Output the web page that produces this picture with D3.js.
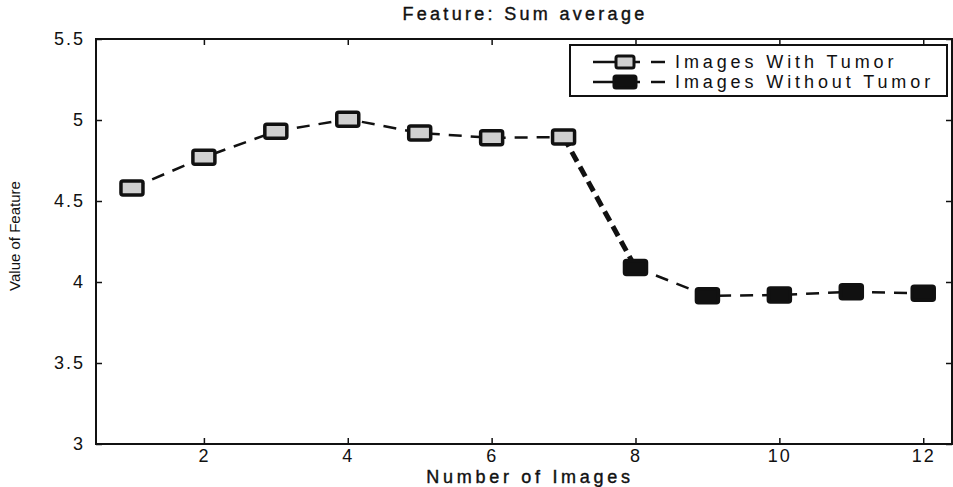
<!DOCTYPE html>
<html>
<head>
<meta charset="utf-8">
<script src="https://cdnjs.cloudflare.com/ajax/libs/d3/7.8.5/d3.min.js"></script>
<style>
  body { margin: 0; background: #fff; }
  svg text { font-family: "Liberation Sans", Arial, sans-serif; fill: #111; }
</style>
</head>
<body>
<svg id="chart" width="953" height="487"></svg>
<script>
// values
var imagesWith = [1, 2, 3, 4, 5, 6, 7];
var valuesWith = [4.58, 4.77, 4.93, 5.005, 4.92, 4.89, 4.895];
var imagesWithout = [8, 9, 10, 11, 12];
var valuesWithout = [4.09, 3.915, 3.92, 3.94, 3.93];
var xTicks = [2, 4, 6, 8, 10, 12];
var yTicks = [3, 3.5, 4, 4.5, 5, 5.5];
var seriesNames = ["Images With Tumor", "Images Without Tumor"];

var svg = d3.select("#chart");
var margin = {top: 39, right: 1, bottom: 43, left: 96},
    width = +svg.attr("width") - margin.left - margin.right,
    height = +svg.attr("height") - margin.top - margin.bottom;

var x = d3.scaleLinear().domain([0.5, 12.4]).range([0, width]);
var y = d3.scaleLinear().domain([3, 5.5]).range([height, 0]);

var g = svg.append("g").attr("transform", "translate(" + margin.left + "," + margin.top + ")");

// axes, matlab style box with inward ticks
function styleAxis(sel) {
    sel.attr("font-size", null).attr("font-family", null);
    sel.selectAll(".domain").remove();
    sel.selectAll("line").attr("stroke", "#111").attr("stroke-width", 1.5);
    sel.selectAll("text").style("font-size", "18px").attr("letter-spacing", 2);
}
g.append("g").attr("transform", "translate(0," + height + ")")
    .call(d3.axisBottom(x).tickValues(xTicks).tickSize(-6).tickPadding(5).tickFormat(d3.format("d")))
    .call(styleAxis);
g.append("g")
    .call(d3.axisTop(x).tickValues(xTicks).tickSize(-6).tickFormat(""))
    .call(styleAxis);
g.append("g")
    .call(d3.axisLeft(y).tickValues(yTicks).tickSize(-6).tickPadding(11).tickFormat(function (d) { return d; }))
    .call(styleAxis);
g.append("g").attr("transform", "translate(" + width + ",0)")
    .call(d3.axisRight(y).tickValues(yTicks).tickSize(-6).tickFormat(""))
    .call(styleAxis);
g.append("rect").attr("width", width).attr("height", height)
    .attr("fill", "none").attr("stroke", "#111").attr("stroke-width", 2);

var dataWith = imagesWith.map(function (d, i) { return {n: d, v: valuesWith[i]}; });
var dataWithout = imagesWithout.map(function (d, i) { return {n: d, v: valuesWithout[i]}; });

var line = d3.line()
    .x(function (d) { return x(d.n); })
    .y(function (d) { return y(d.v); });

g.append("path").datum(dataWith)
    .attr("fill", "none").attr("stroke", "#111").attr("stroke-width", 2.5)
    .attr("stroke-dasharray", "13,9").attr("d", line);

// heavy dashed link from the last tumor image to the first non-tumor one
g.append("path").datum([dataWith[dataWith.length - 1], dataWithout[0]])
    .attr("fill", "none").attr("stroke", "#111").attr("stroke-width", 5)
    .attr("stroke-dasharray", "11,6").attr("d", line);

g.append("path").datum(dataWithout)
    .attr("fill", "none").attr("stroke", "#111").attr("stroke-width", 2.5)
    .attr("stroke-dasharray", "13,9").attr("d", line);

function markers(data, fill) {
    g.selectAll(null).data(data).enter().append("rect")
        .attr("x", function (d) { return x(d.n) - 11; })
        .attr("y", function (d) { return y(d.v) - 7; })
        .attr("width", 22).attr("height", 14)
        .attr("rx", 2)
        .attr("fill", fill).attr("stroke", "#111").attr("stroke-width", 3.5);
}
markers(dataWith, "#d0d0d0");
markers(dataWithout, "#111");

// legend
var lg = g.append("g").attr("transform", "translate(" + (570 - margin.left) + "," + (45 - margin.top) + ")");
lg.append("rect").attr("width", 377).attr("height", 51)
    .attr("fill", "#fff").attr("stroke", "#111").attr("stroke-width", 2);
seriesNames.forEach(function (name, i) {
    var yy = 17 + i * 20;
    lg.append("line").attr("x1", 23).attr("x2", 70).attr("y1", yy).attr("y2", yy)
        .attr("stroke", "#111").attr("stroke-width", 2.5);
    lg.append("line").attr("x1", 81).attr("x2", 95).attr("y1", yy).attr("y2", yy)
        .attr("stroke", "#111").attr("stroke-width", 2.5);
    lg.append("rect").attr("x", i ? 44 : 46).attr("y", yy - 6).attr("width", i ? 22 : 18).attr("height", 12)
        .attr("rx", 2)
        .attr("fill", i ? "#111" : "#d0d0d0").attr("stroke", "#111").attr("stroke-width", 3);
    lg.append("text").attr("x", 105).attr("y", yy + 6)
        .attr("font-size", 18).attr("letter-spacing", 3.9).text(name);
});

// titles
svg.append("text").attr("x", 525).attr("y", 20).attr("text-anchor", "middle")
    .attr("font-size", 18).attr("letter-spacing", 3.3)
    .style("stroke", "#111").style("stroke-width", 0.4)
    .text("Feature: Sum average");
svg.append("text").attr("x", 530).attr("y", 483).attr("text-anchor", "middle")
    .attr("font-size", 18).attr("letter-spacing", 3.7)
    .style("stroke", "#111").style("stroke-width", 0.4)
    .text("Number of Images");
svg.append("text").attr("transform", "translate(20,236) rotate(-90)").attr("text-anchor", "middle")
    .attr("font-size", 15).style("font-family", "Liberation Sans Narrow, Arial Narrow, sans-serif")
    .text("Value of Feature");
</script>
</body>
</html>
